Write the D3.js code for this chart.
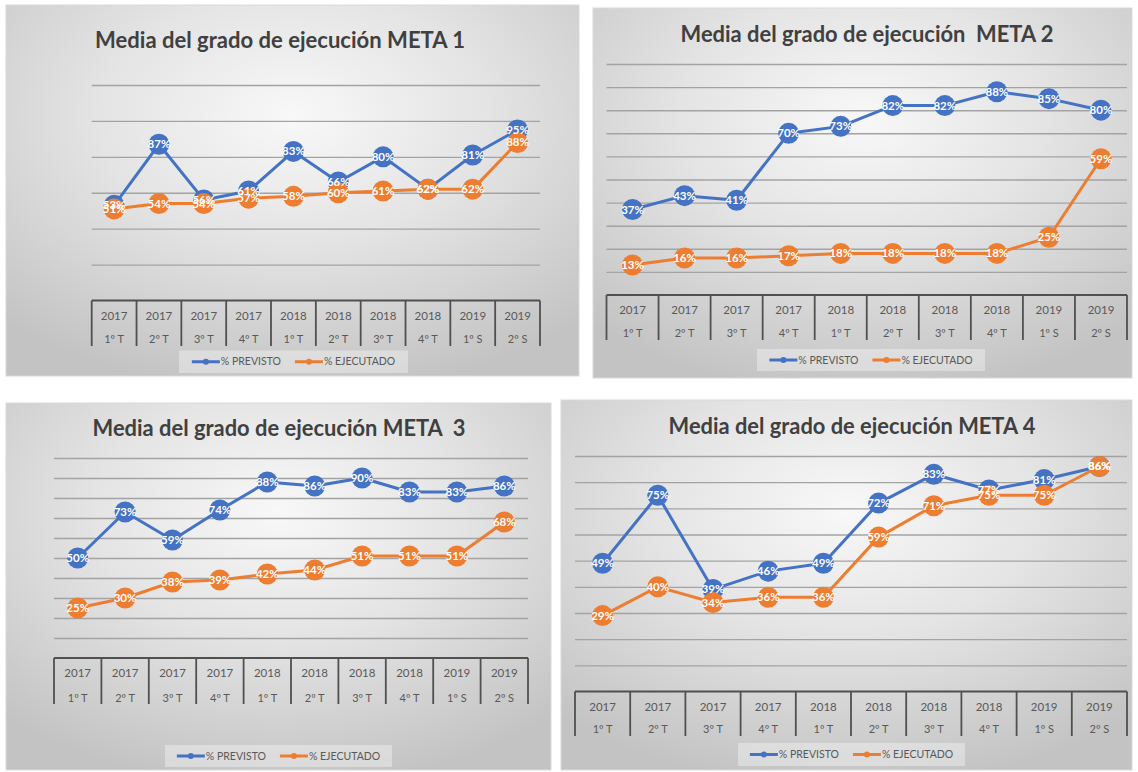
<!DOCTYPE html>
<html><head><meta charset="utf-8">
<script src="https://cdn.jsdelivr.net/npm/d3@7"></script>
<style>
body{margin:0;background:#fff;}
svg{display:block;font-family:Lato,"Open Sans",sans-serif;}
text{white-space:pre;}
</style>
</head><body>
<svg id="c" width="1138" height="772"></svg>
<script>
// ---------- data ----------
const yearLabels   = ["2017","2017","2017","2017","2018","2018","2018","2018","2019","2019"];
const periodLabels = ["1º T","2º T","3º T","4º T","1º T","2º T","3º T","4º T","1º S","2º S"];
const seriesNames  = ["% PREVISTO","% EJECUTADO"];
const titles = [
  "Media del grado de ejecución META 1",
  "Media del grado de ejecución  META 2",
  "Media del grado de ejecución META  3",
  "Media del grado de ejecución META 4"
];
const meta1Previsto  = [53,87,56,61,83,66,80,62,81,95];
const meta1Ejecutado = [51,54,54,57,58,60,61,62,62,88];
const meta2Previsto  = [37,43,41,70,73,82,82,88,85,80];
const meta2Ejecutado = [13,16,16,17,18,18,18,18,25,59];
const meta3Previsto  = [50,73,59,74,88,86,90,83,83,86];
const meta3Ejecutado = [25,30,38,39,42,44,51,51,51,68];
const meta4Previsto  = [49,75,39,46,49,72,83,77,81,86];
const meta4Ejecutado = [29,40,34,36,36,59,71,75,75,86];
const yMaxes     = [120,100,100,90];
const yTickSteps = [20,10,10,10];

const previstoSets  = [meta1Previsto, meta2Previsto, meta3Previsto, meta4Previsto];
const ejecutadoSets = [meta1Ejecutado, meta2Ejecutado, meta3Ejecutado, meta4Ejecutado];

// ---------- layout ----------
const layouts = [
  {frame:[6,5,573,371],  plot:{left:91.7,right:540,zero:300.5,top:85}, title:{cx:280,y:48,w:370}, table:{bottom:346,yearY:316,perY:339}, legend:{x:179,y:350.5,w:229,h:22.5}, r:10.5},
  {frame:[593,8,539,370],plot:{left:606.5,right:1127,zero:295,top:64}, title:{cx:867,y:42,w:373}, table:{bottom:340,yearY:310,perY:333}, legend:{x:757,y:349,w:228,h:22}, r:10.5},
  {frame:[6,403,545,367],plot:{left:54,right:528,zero:658,top:458},    title:{cx:279,y:436,w:373}, table:{bottom:704,yearY:673,perY:698}, legend:{x:165,y:745,w:227,h:22}, r:10.5},
  {frame:[561,400,571,370],plot:{left:575,right:1127,zero:691.5,top:456},title:{cx:852,y:434,w:367}, table:{bottom:736,yearY:707,perY:729}, legend:{x:738,y:743,w:227,h:23}, r:10.5}
];
const colors = ["#4472C4","#ED7D31"];

const svg = d3.select("#c");
const defs = svg.append("defs");
const grad = defs.append("radialGradient").attr("id","bg").attr("cx","50%").attr("cy","30%").attr("r","75%");
grad.append("stop").attr("offset","0%").attr("stop-color","#f8f8f8");
grad.append("stop").attr("offset","45%").attr("stop-color","#e4e4e4");
grad.append("stop").attr("offset","100%").attr("stop-color","#c3c3c3");

layouts.forEach((L, k) => {
  const g = svg.append("g");
  const [fx,fy,fw,fh] = L.frame;
  g.append("rect").attr("x",fx).attr("y",fy).attr("width",fw).attr("height",fh)
    .attr("fill","url(#bg)").attr("stroke","#d9d9d9").attr("stroke-width",1);

  // title
  const t = g.append("text").attr("x",L.title.cx).attr("y",L.title.y)
    .attr("text-anchor","middle").attr("font-weight","bold").attr("font-size",21)
    .attr("fill","#404040").text(titles[k]);
  const tw = t.node().getComputedTextLength();
  t.attr("font-size", 21*L.title.w/tw);

  // scales
  const x = d3.scaleBand().domain(d3.range(yearLabels.length)).range([L.plot.left, L.plot.right]).padding(0);
  const y = d3.scaleLinear().domain([0,yMaxes[k]]).range([L.plot.zero, L.plot.top]);
  const cx = i => x(i) + x.bandwidth()/2;

  // gridlines
  const ticks = d3.range(yTickSteps[k], yMaxes[k]+0.001, yTickSteps[k]);
  g.append("g").call(d3.axisLeft(y).tickValues(ticks).tickSize(-(L.plot.right-L.plot.left)).tickFormat(""))
    .attr("transform",`translate(${L.plot.left},0)`)
    .call(a=>a.select(".domain").remove())
    .call(a=>a.selectAll("line").attr("stroke","#a3a3a3").attr("stroke-width",1.4));

  // category table
  const tb = g.append("g");
  tb.append("line").attr("x1",L.plot.left).attr("x2",L.plot.right).attr("y1",y(0)).attr("y2",y(0))
    .attr("stroke","#505050").attr("stroke-width",1.8);
  const edges = d3.range(yearLabels.length+1).map(i => i<yearLabels.length ? x(i) : L.plot.right);
  tb.selectAll("line.v").data(edges).join("line").attr("class","v")
    .attr("x1",d=>d).attr("x2",d=>d).attr("y1",y(0)).attr("y2",L.table.bottom)
    .attr("stroke","#505050").attr("stroke-width",1.8);
  tb.selectAll("text.yr").data(yearLabels).join("text").attr("class","yr")
    .attr("x",(d,i)=>cx(i)).attr("y",L.table.yearY).attr("dy","0.35em")
    .attr("text-anchor","middle").attr("font-size",11.5).attr("fill","#595959").text(d=>d);
  tb.selectAll("text.pr").data(periodLabels).join("text").attr("class","pr")
    .attr("x",(d,i)=>cx(i)).attr("y",L.table.perY).attr("dy","0.35em")
    .attr("text-anchor","middle").attr("font-size",11).attr("fill","#595959").text(d=>d);

  // series
  const sets = [previstoSets[k], ejecutadoSets[k]];
  const line = d3.line().x((d,i)=>cx(i)).y(d=>y(d));
  sets.forEach((vals, s) => {
    const sg = g.append("g");
    sg.append("path").datum(vals).attr("d",line).attr("fill","none")
      .attr("stroke",colors[s]).attr("stroke-width",3).attr("stroke-linejoin","round");
    sg.selectAll("circle").data(vals).join("circle")
      .attr("cx",(d,i)=>cx(i)).attr("cy",d=>y(d)).attr("r",L.r).attr("fill",colors[s]);
  });
  sets.forEach((vals, s) => {
    g.append("g").selectAll("text").data(vals).join("text")
      .attr("x",(d,i)=>cx(i)).attr("y",d=>y(d)).attr("dy","0.35em")
      .attr("text-anchor","middle").attr("font-size",11.5).attr("font-weight","bold")
      .attr("fill","#ffffff").text(d=>d+"%");
  });

  // legend
  const lg = g.append("g");
  lg.append("rect").attr("x",L.legend.x).attr("y",L.legend.y).attr("width",L.legend.w).attr("height",L.legend.h)
    .attr("fill","#ffffff").attr("fill-opacity",0.35);
  const ly = L.legend.y + L.legend.h/2;
  const items = lg.selectAll("g.it").data(seriesNames).join("g").attr("class","it");
  items.append("line").attr("x1",0).attr("x2",28).attr("y1",0).attr("y2",0)
    .attr("stroke",(d,i)=>colors[i]).attr("stroke-width",3);
  items.append("circle").attr("cx",14).attr("cy",0).attr("r",3).attr("fill",(d,i)=>colors[i]);
  items.append("text").attr("x",29).attr("dy","0.35em").attr("font-size",10.5).attr("fill","#595959").text(d=>d);
  const widths = items.nodes().map(n => n.getBBox().width);
  const gap = 14;
  const total = widths[0] + gap + widths[1];
  let start = L.legend.x + L.legend.w/2 - total/2;
  items.attr("transform",(d,i)=>`translate(${i===0?start:start+widths[0]+gap},${ly})`);
});
</script>
</body></html>
